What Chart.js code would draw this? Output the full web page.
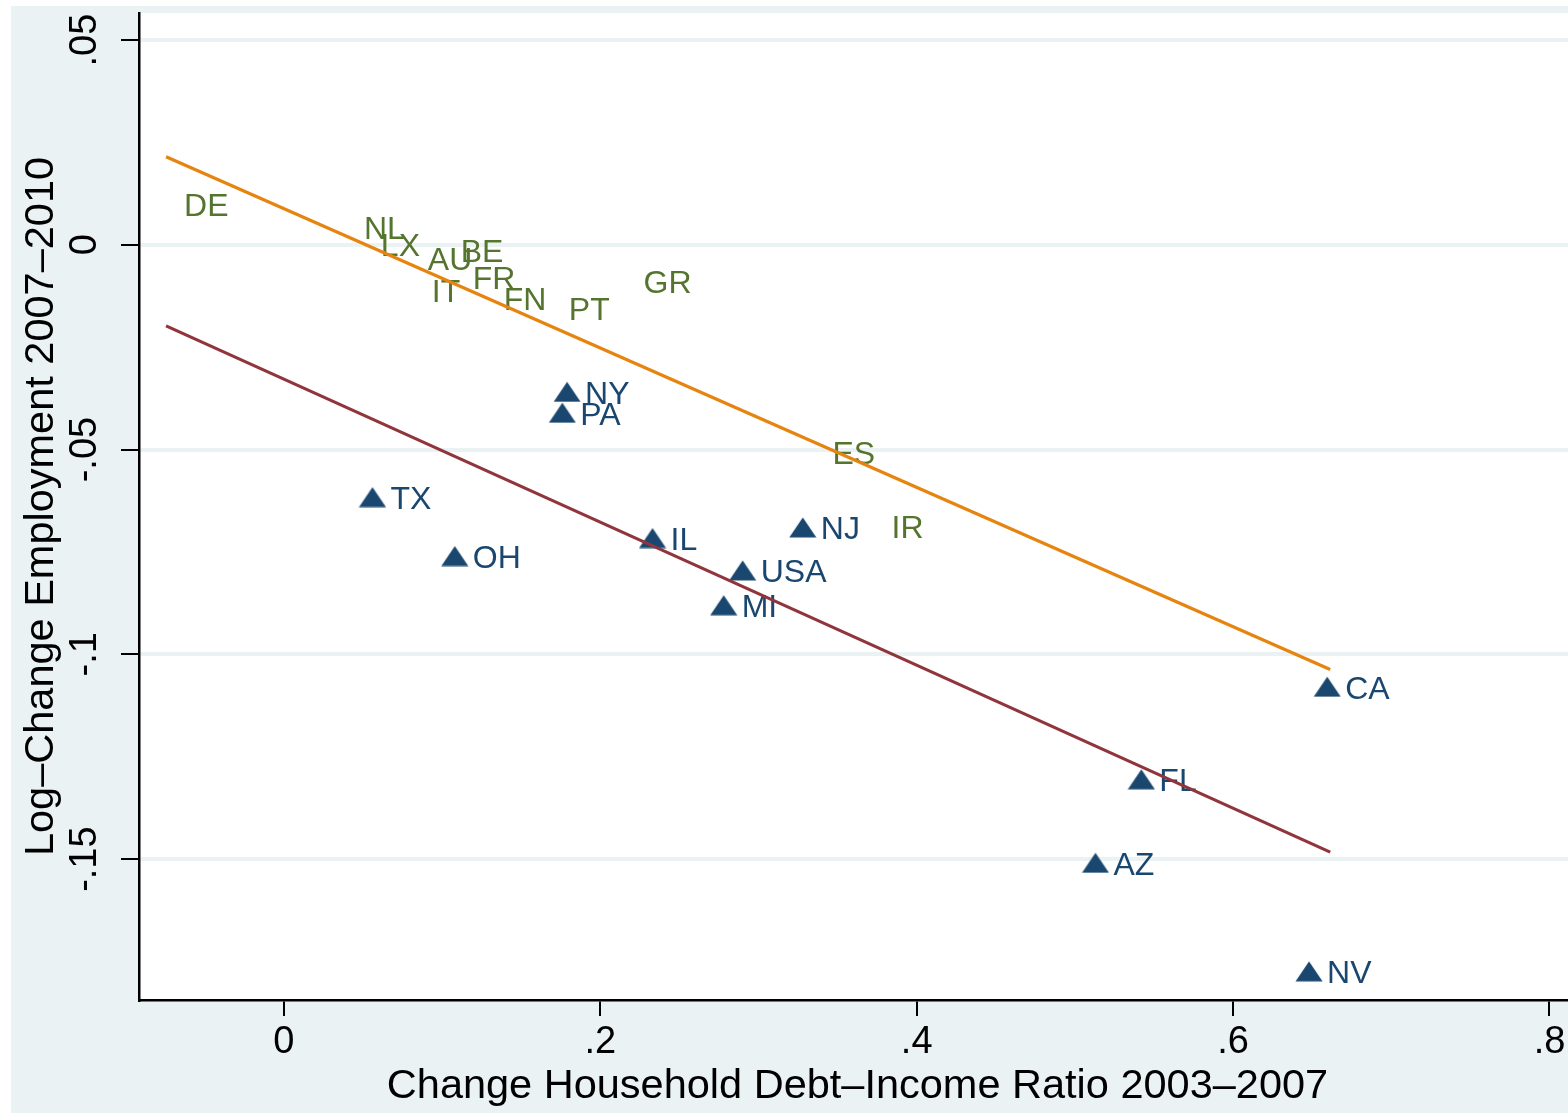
<!DOCTYPE html>
<html>
<head>
<meta charset="utf-8">
<script src="https://cdn.jsdelivr.net/npm/chart.js@4.4.1/dist/chart.umd.min.js"></script>
<style>
  html, body { margin: 0; padding: 0; background: #fff; overflow: hidden; }
  #wrap { width: 1568px; height: 1115px; }
</style>
</head>
<body>
<div id="wrap"><canvas id="chart" width="1568" height="1115"></canvas></div>
<script>
// US states (triangles)
const stateCodes = ['NY', 'PA', 'TX', 'OH', 'IL', 'NJ', 'USA', 'MI', 'CA', 'FL', 'AZ', 'NV'];
const stateDebt = [0.179, 0.176, 0.056, 0.108, 0.233, 0.328, 0.290, 0.278, 0.6595, 0.542, 0.513, 0.648];
const stateEmp = [-0.0359, -0.0410, -0.0616, -0.0760, -0.0716, -0.0690, -0.0795, -0.0880, -0.1079, -0.1305, -0.1509, -0.1774];

// Countries (labels only)
const countryCodes = ['DE', 'NL', 'LX', 'AU', 'BE', 'FR', 'IT', 'FN', 'PT', 'GR', 'ES', 'IR'];
const countryDebt = [-0.0745, 0.0392, 0.0499, 0.0796, 0.1004, 0.1080, 0.0821, 0.1276, 0.1687, 0.2160, 0.3354, 0.3727];
const countryEmp = [0.0098, 0.0042, 0.0001, -0.0033, -0.0012, -0.0080, -0.0112, -0.0130, -0.0154, -0.0089, -0.0507, -0.0687];

// Fitted lines
const fitX = [-0.0745, 0.6614];
const countryFitY = [0.0215, -0.1037];
const stateFitY = [-0.0198, -0.1483];

// Axes
const xTicks = [0, 0.2, 0.4, 0.6, 0.8];
const xTickLabels = ['0', '.2', '.4', '.6', '.8'];
const yTicks = [0.05, 0, -0.05, -0.1, -0.15];
const yTickLabels = ['.05', '0', '-.05', '-.1', '-.15'];
const xTitle = 'Change Household Debt–Income Ratio 2003–2007';
const yTitle = 'Log–Change Employment 2007–2010';

const FONT = '"Liberation Sans", Arial, Helvetica, sans-serif';
const NAVY = '#1a476f';
const GREEN = '#55752f';
const BG = '#eaf2f3';

function toPoints(xs, ys) {
    return xs.map((x, i) => ({ x: x, y: ys[i] }));
}

// Stata-like flat triangle marker
function makeTriangle() {
    const c = document.createElement('canvas');
    c.width = 28;
    c.height = 21;
    const g = c.getContext('2d');
    g.fillStyle = NAVY;
    g.beginPath();
    g.moveTo(0.5, 20.5);
    g.lineTo(27.5, 20.5);
    g.lineTo(14, 0.5);
    g.closePath();
    g.fill();
    return c;
}

const backgroundPlugin = {
    id: 'background',
    beforeDraw(chart) {
        const ctx = chart.ctx;
        const a = chart.chartArea;
        ctx.save();
        ctx.fillStyle = '#ffffff';
        ctx.fillRect(0, 0, chart.width, chart.height);
        ctx.fillStyle = BG;
        ctx.fillRect(11, 6, chart.width - 11, chart.height - 8);
        ctx.fillStyle = '#ffffff';
        ctx.fillRect(a.left, a.top, a.right - a.left, a.bottom - a.top);
        ctx.restore();
    }
};

// marker labels drawn under the fit lines
const markerLabelPlugin = {
    id: 'markerLabels',
    beforeDatasetsDraw(chart) {
        const ctx = chart.ctx;
        ctx.save();
        ctx.font = '32px ' + FONT;
        ctx.textAlign = 'left';
        ctx.textBaseline = 'middle';
        chart.data.datasets.forEach((ds, di) => {
            if (!ds.labels) return;
            const meta = chart.getDatasetMeta(di);
            ctx.fillStyle = ds.labelColor;
            meta.data.forEach((pt, i) => {
                ctx.fillText(ds.labels[i], pt.x + 18, pt.y + 3);
            });
        });
        ctx.restore();
    }
};

const axisTextPlugin = {
    id: 'axisText',
    afterDraw(chart) {
        const ctx = chart.ctx;
        const xs = chart.scales.x;
        const ys = chart.scales.y;
        const a = chart.chartArea;
        ctx.save();
        ctx.fillStyle = '#000';
        ctx.textAlign = 'center';
        ctx.textBaseline = 'middle';

        ctx.font = '38px ' + FONT;
        xTicks.forEach((v, i) => {
            ctx.fillText(xTickLabels[i], xs.getPixelForValue(v), a.bottom + 43);
        });
        yTicks.forEach((v, i) => {
            ctx.save();
            ctx.translate(86, ys.getPixelForValue(v));
            ctx.rotate(-Math.PI / 2);
            ctx.fillText(yTickLabels[i], 0, 0);
            ctx.restore();
        });

        ctx.font = '41.5px ' + FONT;
        ctx.fillText(xTitle, (a.left + a.right) / 2 + 4, a.bottom + 87);
        ctx.save();
        ctx.translate(42, (a.top + a.bottom) / 2);
        ctx.rotate(-Math.PI / 2);
        ctx.fillText(yTitle, 0, 0);
        ctx.restore();
        ctx.restore();
    }
};

const ctx = document.getElementById('chart').getContext('2d');
new Chart(ctx, {
    type: 'scatter',
    data: {
        datasets: [
            {
                type: 'line',
                data: toPoints(fitX, countryFitY),
                borderColor: '#e6840f',
                borderWidth: 3.2,
                pointRadius: 0,
                fill: false
            },
            {
                type: 'line',
                data: toPoints(fitX, stateFitY),
                borderColor: '#90353b',
                borderWidth: 3.2,
                pointRadius: 0,
                fill: false
            },
            {
                data: toPoints(stateDebt, stateEmp),
                pointStyle: makeTriangle(),
                pointRadius: 10,
                labels: stateCodes,
                labelColor: NAVY
            },
            {
                data: toPoints(countryDebt, countryEmp),
                pointRadius: 0,
                labels: countryCodes,
                labelColor: GREEN
            }
        ]
    },
    options: {
        responsive: false,
        animation: false,
        devicePixelRatio: 1,
        events: [],
        layout: { autoPadding: false, padding: { top: 13, left: 0, right: 0, bottom: 0 } },
        plugins: {
            legend: { display: false },
            tooltip: { enabled: false }
        },
        scales: {
            x: {
                type: 'linear',
                min: -0.0916,
                max: 0.8117,
                afterBuildTicks: s => { s.ticks = xTicks.map(v => ({ value: v })); },
                afterFit: s => { s.height = 115; s.paddingLeft = 0; s.paddingRight = 0; },
                ticks: { display: false },
                grid: {
                    display: true,
                    drawOnChartArea: false,
                    color: '#000',
                    lineWidth: 2,
                    tickLength: 16
                },
                border: { display: true, color: '#000', width: 2.5 }
            },
            y: {
                type: 'linear',
                min: -0.1844,
                max: 0.0566,
                afterBuildTicks: s => { s.ticks = yTicks.map(v => ({ value: v })); },
                afterFit: s => { s.width = 139; s.paddingTop = 0; s.paddingBottom = 0; },
                ticks: { display: false },
                grid: {
                    display: true,
                    color: BG,
                    lineWidth: 4,
                    tickColor: '#000',
                    tickWidth: 2,
                    tickLength: 18
                },
                border: { display: true, color: '#000', width: 2.5 }
            }
        }
    },
    plugins: [backgroundPlugin, markerLabelPlugin, axisTextPlugin]
});
</script>
</body>
</html>
